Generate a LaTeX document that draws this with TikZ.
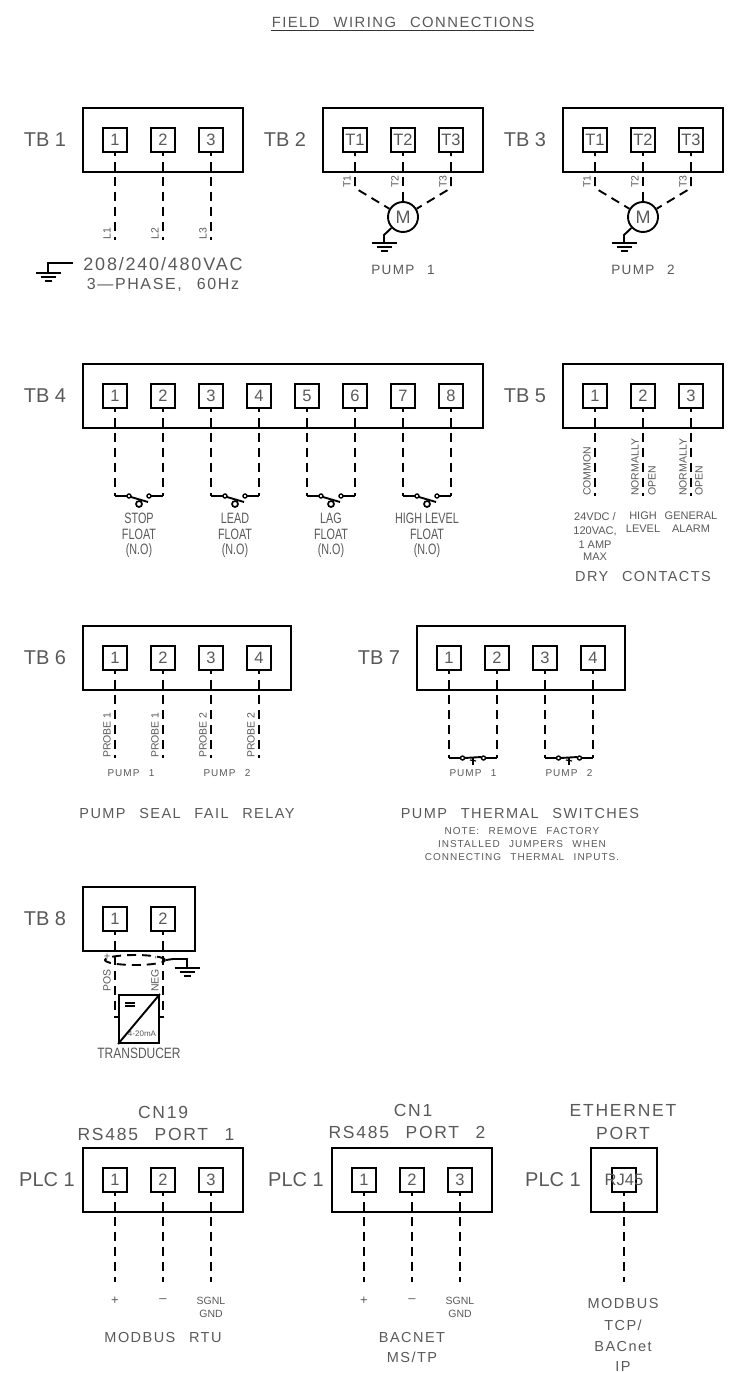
\documentclass[tikz,border=0pt]{standalone}
\usepackage{fontspec}
\usetikzlibrary{shapes.geometric}
\setmainfont{Liberation Sans}
\newfontfamily\widefont[LetterSpace=10,WordSpace=2.5]{Liberation Sans}
\tikzstyle{tbox}=[rectangle,draw,line width=1.9pt,minimum height=64pt,inner sep=0pt]
\tikzstyle{term}=[rectangle,draw,line width=1.9pt,minimum size=24.5pt,inner sep=0pt,text=black!65,font=\fontsize{16.5}{16.5}\selectfont]
\tikzstyle{tname}=[text=black!65,inner sep=0pt,font=\fontsize{20}{20}\selectfont]
\tikzstyle{head}=[text=black!65,inner sep=0pt,font=\widefont\fontsize{17.5}{17.5}\selectfont]
\tikzstyle{sect}=[text=black!65,inner sep=0pt,font=\widefont\fontsize{14.5}{14.5}\selectfont]
\tikzstyle{note}=[text=black!65,inner sep=0pt,font=\widefont\fontsize{10}{10}\selectfont]
\tikzstyle{small}=[text=black!65,inner sep=0pt,font=\fontsize{10.5}{10.5}\selectfont]
\tikzstyle{rot}=[small,rotate=90,anchor=west]
\tikzstyle{slim}=[text=black!65,inner sep=0pt,transform shape,xscale=.72,font=\fontsize{15}{15}\selectfont]
\tikzstyle{wire}=[line width=1.9pt,dash pattern=on 9pt off 6pt,dash phase=6pt]
\tikzstyle{lead}=[line width=1.9pt]
\tikzstyle{motor}=[circle,draw,line width=1.9pt,minimum size=30pt,inner sep=0pt,text=black!65,font=\fontsize{18}{18}\selectfont]
\tikzset{
	earth/.pic={
		\draw[lead] (-12.5,0) -- (12.5,0);
		\draw[lead] (-7.5,-4) -- (7.5,-4);
		\draw[lead] (-3.5,-8) -- (3.5,-8);
	},
	floatsw/.pic={
		\draw[lead] (-24,0) -- (-12,0);
		\draw[lead] (12,0) -- (24,0);
		\draw[line width=1.4pt] (-10,0) circle (2pt);
		\draw[line width=1.4pt] (10,0) circle (2pt);
		\draw[lead] (-8,-1) -- (9,-6);
		\draw[line width=1.7pt,fill=white] (0,-8) circle (3pt);
	},
	thermsw/.pic={
		\draw[lead] (-24,0) -- (-13,0);
		\draw[lead] (13,0) -- (24,0);
		\draw[line width=1.4pt] (-10.5,0) circle (2pt);
		\draw[line width=1.4pt] (10.5,0) circle (2pt);
		\draw[lead] (-8.5,0) -- (8.5,1);
		\draw[lead] (0,0) -- (0,-7);
		\draw[line width=1.2pt] (-3,-2) -- (3,-3);
	}
}

\begin{document}
\begin{tikzpicture}[x=1pt,y=1pt]
		\useasboundingbox (0,0) rectangle (752,-1373);
		% title
		\node[sect,font=\widefont\fontsize{14.8}{14.8}\selectfont] (title) at (403,-22) {FIELD WIRING CONNECTIONS};
		\coordinate (ula) at (271,-30);
		\coordinate (ulb) at (534,-30);
		\draw[line width=.9pt,black!80] (ula) -- (ulb);
		
		% TB1
		\node[tname] (n1) at (45,-140) {TB 1};
		\node[tbox,minimum width=160pt] (tb1) at (163,-140) {};
		\node[term] (a1) at (115,-140) {1};
		\node[term] (a2) at (163,-140) {2};
		\node[term] (a3) at (211,-140) {3};
		\coordinate (ea1) at (115,-240);
		\coordinate (ea2) at (163,-240);
		\coordinate (ea3) at (211,-240);
		\draw[wire] (a1) -- (ea1);
		\draw[wire] (a2) -- (ea2);
		\draw[wire] (a3) -- (ea3);
		\node[rot] (la1) at (107,-240) {L1};
		\node[rot] (la2) at (155,-240) {L2};
		\node[rot] (la3) at (203,-240) {L3};
		\coordinate (ga) at (73,-263);
		\coordinate (gb) at (48,-263);
		\coordinate (gc) at (48,-273);
		\draw[lead] (ga) -- (gb) -- (gc);
		\pic at (gc) {earth};
		\node[head,font=\widefont\fontsize{18}{18}\selectfont] (va) at (163,-264) {208/240/480VAC};
		\node[head,font=\widefont\fontsize{16}{16}\selectfont] (vb) at (163,-285) {3—PHASE, 60Hz};
		
		% TB2
		\node[tname] (n2) at (285,-140) {TB 2};
		\node[tbox,minimum width=160pt] (tb2) at (403,-140) {};
		\node[term] (b1) at (355,-140) {T1};
		\node[term] (b2) at (403,-140) {T2};
		\node[term] (b3) at (451,-140) {T3};
		\node[motor] (m1) at (403,-217) {M};
		\coordinate (kb1) at (355,-188);
		\coordinate (kb3) at (451,-188);
		\draw[wire] (b1) -- (kb1) -- (m1);
		\draw[wire] (b2) -- (m1);
		\draw[wire] (b3) -- (kb3) -- (m1);
		\node[rot] (lb1) at (347,-188) {T1};
		\node[rot] (lb2) at (395,-188) {T2};
		\node[rot] (lb3) at (443,-188) {T3};
		\coordinate (gm1) at (384,-235);
		\coordinate (gn1) at (384,-243);
		\draw[lead] (m1) -- (gm1) -- (gn1);
		\pic at (gn1) {earth};
		\node[sect,font=\widefont\fontsize{13.5}{13.5}\selectfont] (p1) at (403,-270) {PUMP 1};
		
		% TB3
		\node[tname] (n3) at (525,-140) {TB 3};
		\node[tbox,minimum width=160pt] (tb3) at (643,-140) {};
		\node[term] (c1) at (595,-140) {T1};
		\node[term] (c2) at (643,-140) {T2};
		\node[term] (c3) at (691,-140) {T3};
		\node[motor] (m2) at (643,-217) {M};
		\coordinate (kc1) at (595,-188);
		\coordinate (kc3) at (691,-188);
		\draw[wire] (c1) -- (kc1) -- (m2);
		\draw[wire] (c2) -- (m2);
		\draw[wire] (c3) -- (kc3) -- (m2);
		\node[rot] (lc1) at (587,-188) {T1};
		\node[rot] (lc2) at (635,-188) {T2};
		\node[rot] (lc3) at (683,-188) {T3};
		\coordinate (gm2) at (624,-235);
		\coordinate (gn2) at (624,-243);
		\draw[lead] (m2) -- (gm2) -- (gn2);
		\pic at (gn2) {earth};
		\node[sect,font=\widefont\fontsize{13.5}{13.5}\selectfont] (p2) at (643,-270) {PUMP 2};
		
		% TB4
		\node[tname] (n4) at (45,-396) {TB 4};
		\node[tbox,minimum width=400pt] (tb4) at (283,-396) {};
		\node[term] (d1) at (115,-396) {1};
		\node[term] (d2) at (163,-396) {2};
		\node[term] (d3) at (211,-396) {3};
		\node[term] (d4) at (259,-396) {4};
		\node[term] (d5) at (307,-396) {5};
		\node[term] (d6) at (355,-396) {6};
		\node[term] (d7) at (403,-396) {7};
		\node[term] (d8) at (451,-396) {8};
		\coordinate (ed1) at (115,-496);
		\coordinate (ed2) at (163,-496);
		\coordinate (ed3) at (211,-496);
		\coordinate (ed4) at (259,-496);
		\coordinate (ed5) at (307,-496);
		\coordinate (ed6) at (355,-496);
		\coordinate (ed7) at (403,-496);
		\coordinate (ed8) at (451,-496);
		\draw[wire] (d1) -- (ed1);
		\draw[wire] (d2) -- (ed2);
		\draw[wire] (d3) -- (ed3);
		\draw[wire] (d4) -- (ed4);
		\draw[wire] (d5) -- (ed5);
		\draw[wire] (d6) -- (ed6);
		\draw[wire] (d7) -- (ed7);
		\draw[wire] (d8) -- (ed8);
		\pic at (139,-496) {floatsw};
		\pic at (235,-496) {floatsw};
		\pic at (331,-496) {floatsw};
		\pic at (427,-496) {floatsw};
		\node[slim] (f1a) at (139,-518) {STOP};
		\node[slim] (f1b) at (139,-534) {FLOAT};
		\node[slim] (f1c) at (139,-551) {(N.O)};
		\node[slim] (f2a) at (235,-518) {LEAD};
		\node[slim] (f2b) at (235,-534) {FLOAT};
		\node[slim] (f2c) at (235,-551) {(N.O)};
		\node[slim] (f3a) at (331,-518) {LAG};
		\node[slim] (f3b) at (331,-534) {FLOAT};
		\node[slim] (f3c) at (331,-551) {(N.O)};
		\node[slim] (f4a) at (427,-518) {HIGH LEVEL};
		\node[slim] (f4b) at (427,-534) {FLOAT};
		\node[slim] (f4c) at (427,-551) {(N.O)};
		
		% TB5
		\node[tname] (n5) at (525,-396) {TB 5};
		\node[tbox,minimum width=160pt] (tb5) at (643,-396) {};
		\node[term] (e1) at (595,-396) {1};
		\node[term] (e2) at (643,-396) {2};
		\node[term] (e3) at (691,-396) {3};
		\coordinate (ee1) at (595,-496);
		\coordinate (ee2) at (643,-496);
		\coordinate (ee3) at (691,-496);
		\draw[wire] (e1) -- (ee1);
		\draw[wire] (e2) -- (ee2);
		\draw[wire] (e3) -- (ee3);
		\node[rot] (le1) at (587,-496) {COMMON};
		\node[rot] (le2) at (635,-496) {NORMALLY};
		\node[rot] (le2b) at (652,-496) {OPEN};
		\node[rot] (le3) at (683,-496) {NORMALLY};
		\node[rot] (le3b) at (699,-496) {OPEN};
		\node[small,font=\fontsize{11}{11}\selectfont] (x1a) at (595,-517) {24VDC /};
		\node[small,font=\fontsize{11}{11}\selectfont] (x1b) at (595,-531) {120VAC,};
		\node[small,font=\fontsize{11}{11}\selectfont] (x1c) at (595,-545) {1 AMP};
		\node[small,font=\fontsize{11}{11}\selectfont] (x1d) at (595,-557) {MAX};
		\node[small,font=\fontsize{11}{11}\selectfont] (x2a) at (643,-516) {HIGH};
		\node[small,font=\fontsize{11}{11}\selectfont] (x2b) at (643,-529) {LEVEL};
		\node[small,font=\fontsize{11}{11}\selectfont] (x3a) at (691,-516) {GENERAL};
		\node[small,font=\fontsize{11}{11}\selectfont] (x3b) at (691,-529) {ALARM};
		\node[sect] (dry) at (643,-577) {DRY CONTACTS};
		
		% TB6
		\node[tname] (n6) at (45,-658) {TB 6};
		\node[tbox,minimum width=208pt] (tb6) at (187,-658) {};
		\node[term] (g1) at (115,-658) {1};
		\node[term] (g2) at (163,-658) {2};
		\node[term] (g3) at (211,-658) {3};
		\node[term] (g4) at (259,-658) {4};
		\coordinate (eg1) at (115,-758);
		\coordinate (eg2) at (163,-758);
		\coordinate (eg3) at (211,-758);
		\coordinate (eg4) at (259,-758);
		\draw[wire] (g1) -- (eg1);
		\draw[wire] (g2) -- (eg2);
		\draw[wire] (g3) -- (eg3);
		\draw[wire] (g4) -- (eg4);
		\node[rot] (lg1) at (107,-758) {PROBE 1};
		\node[rot] (lg2) at (155,-758) {PROBE 1};
		\node[rot] (lg3) at (203,-758) {PROBE 2};
		\node[rot] (lg4) at (251,-758) {PROBE 2};
		\node[note] (q1) at (131,-773) {PUMP 1};
		\node[note] (q2) at (227,-773) {PUMP 2};
		\node[sect] (seal) at (187,-813) {PUMP SEAL FAIL RELAY};
		
		% TB7
		\node[tname] (n7) at (379,-658) {TB 7};
		\node[tbox,minimum width=208pt] (tb7) at (521,-658) {};
		\node[term] (h1) at (449,-658) {1};
		\node[term] (h2) at (497,-658) {2};
		\node[term] (h3) at (545,-658) {3};
		\node[term] (h4) at (593,-658) {4};
		\coordinate (eh1) at (449,-758);
		\coordinate (eh2) at (497,-758);
		\coordinate (eh3) at (545,-758);
		\coordinate (eh4) at (593,-758);
		\draw[wire] (h1) -- (eh1);
		\draw[wire] (h2) -- (eh2);
		\draw[wire] (h3) -- (eh3);
		\draw[wire] (h4) -- (eh4);
		\pic at (473,-758) {thermsw};
		\pic at (569,-758) {thermsw};
		\node[note] (r1) at (473,-773) {PUMP 1};
		\node[note] (r2) at (569,-773) {PUMP 2};
		\node[sect] (therm) at (520,-813) {PUMP THERMAL SWITCHES};
		\node[note] (na) at (522,-831) {NOTE: REMOVE FACTORY};
		\node[note] (nb) at (522,-844) {INSTALLED JUMPERS WHEN};
		\node[note] (nc) at (522,-857) {CONNECTING THERMAL INPUTS.};
		
		% TB8
		\node[tname] (n8) at (45,-919) {TB 8};
		\node[tbox,minimum width=112pt] (tb8) at (139,-919) {};
		\node[term] (i1) at (115,-919) {1};
		\node[term] (i2) at (163,-919) {2};
		\node[rectangle,draw,line width=1.9pt,minimum width=40pt,minimum height=48pt,inner sep=0pt] (xd) at (139,-1019) {};
		\coordinate (ki1) at (115,-1017);
		\coordinate (ki2) at (163,-1017);
		\coordinate (ei1) at (119,-1017);
		\coordinate (ei2) at (159,-1017);
		\draw[wire] (i1) -- (ki1) -- (ei1);
		\draw[wire] (i2) -- (ki2) -- (ei2);
		\draw[lead] (xd.south west) -- (xd.north east);
		\coordinate (da) at (125,-1003);
		\coordinate (db) at (135,-1003);
		\coordinate (dc) at (125,-1006);
		\coordinate (dd) at (135,-1006);
		\draw[line width=1.2pt] (da) -- (db);
		\draw[line width=1.2pt] (dc) -- (dd);
		\node[small,font=\fontsize{8}{8}\selectfont] (ma) at (142,-1034) {4-20mA};
		\node[ellipse,draw,line width=1.9pt,dash pattern=on 9pt off 6pt,minimum width=60pt,minimum height=10pt,inner sep=0pt] (shd) at (135,-960) {};
		\coordinate (sa) at (173,-959);
		\coordinate (sb) at (187,-959);
		\coordinate (sc) at (187,-968);
		\draw[lead] (shd.east) -- (sa);
		\draw[lead] (sa) -- (sb) -- (sc);
		\pic at (sc) {earth};
		\node[rot] (pos) at (107,-992) {POS\hspace{10pt}+};
		\node[rot] (neg) at (155,-992) {NEG\hspace{10pt}-};
		\node[slim,xscale=1.11] (tr) at (139,-1053) {TRANSDUCER};
		
		% PLC1 port 1
		\node[tname] (n9) at (47,-1180) {PLC 1};
		\node[tbox,minimum width=160pt] (pl1) at (163,-1180) {};
		\node[term] (j1) at (115,-1180) {1};
		\node[term] (j2) at (163,-1180) {2};
		\node[term] (j3) at (211,-1180) {3};
		\coordinate (ej1) at (115,-1282);
		\coordinate (ej2) at (163,-1282);
		\coordinate (ej3) at (211,-1282);
		\draw[wire] (j1) -- (ej1);
		\draw[wire] (j2) -- (ej2);
		\draw[wire] (j3) -- (ej3);
		\node[head] (cn19) at (163,-1112) {CN19};
		\node[head] (rs1) at (156,-1134) {RS485 PORT 1};
		\node[small,font=\fontsize{13}{13}\selectfont] (sj1) at (115,-1301) {+};
		\node[small,font=\fontsize{13}{13}\selectfont] (sj2) at (163,-1301) {–};
		\node[small] (sj3) at (211,-1301) {SGNL};
		\node[small] (sj4) at (211,-1314) {GND};
		\node[sect] (rtu) at (163,-1337) {MODBUS RTU};
		
		% PLC1 port 2
		\node[tname] (n10) at (296,-1180) {PLC 1};
		\node[tbox,minimum width=160pt] (pl2) at (412,-1180) {};
		\node[term] (k1) at (364,-1180) {1};
		\node[term] (k2) at (412,-1180) {2};
		\node[term] (k3) at (460,-1180) {3};
		\coordinate (ek1) at (364,-1282);
		\coordinate (ek2) at (412,-1282);
		\coordinate (ek3) at (460,-1282);
		\draw[wire] (k1) -- (ek1);
		\draw[wire] (k2) -- (ek2);
		\draw[wire] (k3) -- (ek3);
		\node[head] (cn1) at (413,-1110) {CN1};
		\node[head] (rs2) at (407,-1132) {RS485 PORT 2};
		\node[small,font=\fontsize{13}{13}\selectfont] (sk1) at (364,-1301) {+};
		\node[small,font=\fontsize{13}{13}\selectfont] (sk2) at (412,-1301) {–};
		\node[small] (sk3) at (460,-1301) {SGNL};
		\node[small] (sk4) at (460,-1314) {GND};
		\node[sect] (bac) at (412,-1337) {BACNET};
		\node[sect] (mstp) at (412,-1357) {MS/TP};
		
		% ethernet
		\node[tname] (n11) at (553,-1180) {PLC 1};
		\node[tbox,minimum width=66pt] (pl3) at (624,-1180) {};
		\node[term] (l1) at (624,-1180) {};
		\node[term,draw=none] (rj) at (624,-1180) {\hbox to 0pt{\hss RJ45\hss}};
		\coordinate (el1) at (624,-1282);
		\draw[wire] (l1) -- (el1);
		\node[head] (eth) at (623,-1110) {ETHERNET};
		\node[head] (prt) at (623,-1133) {PORT};
		\node[sect] (mb) at (623,-1303) {MODBUS};
		\node[sect] (tcp) at (623,-1325) {TCP/};
		\node[sect] (bnet) at (623,-1346) {BACnet};
		\node[sect] (ip) at (623,-1366) {IP};
		\end{tikzpicture}
\end{document}
